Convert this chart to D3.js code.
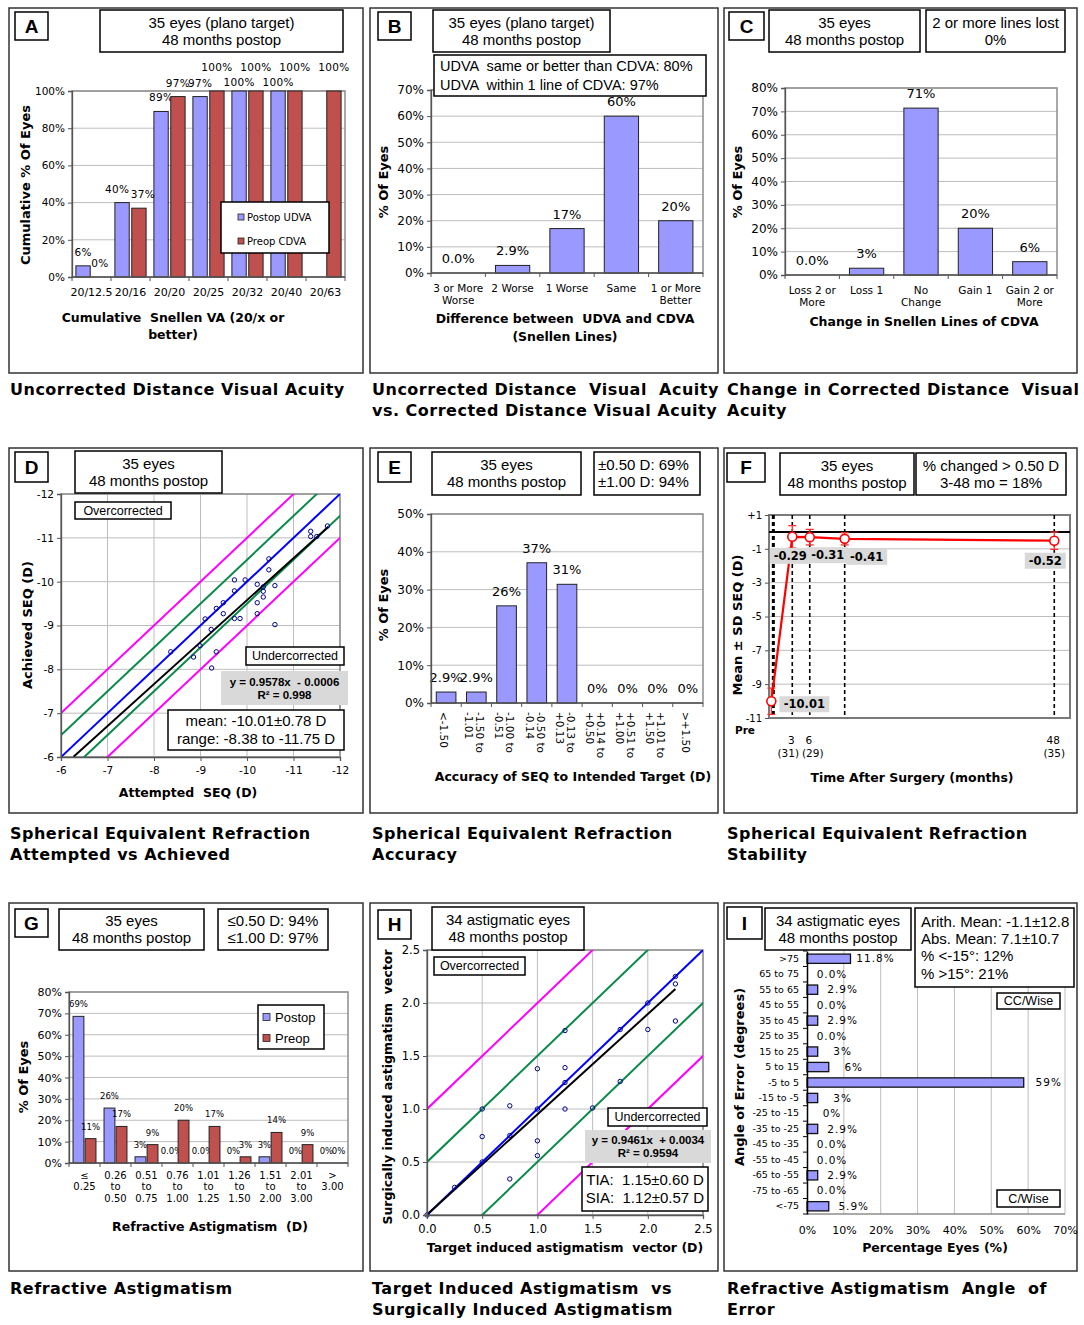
<!DOCTYPE html>
<html>
<head>
<meta charset="utf-8">
<title>Refractive outcomes</title>
<script src="https://cdn.jsdelivr.net/npm/d3@7"></script>
<style>
  body { margin: 0; background: #fff; }
</style>
</head>
<body>
<svg id="fig" width="1084" height="1325"></svg>
<script>
'use strict';

// ---------- data ----------

// A - cumulative snellen VA
var snellenCats = ['20/12.5', '20/16', '20/20', '20/25', '20/32', '20/40', '20/63'];
var udvaCum = [6, 40, 89, 97, 100, 100, null];
var cdvaCum = [0, 37, 97, 100, 100, 100, 100];
var udvaLabels = ['6%', '40%', '89%', '97%', '100%', '100%', null];
var cdvaLabels = ['0%', '37%', '97%', '100%', '100%', '100%', '100%'];

// B - UDVA vs CDVA
var diffCats = [['3 or More', 'Worse'], ['2 Worse'], ['1 Worse'], ['Same'], ['1 or More', 'Better']];
var diffVals = [0, 2.9, 17, 60, 20];
var diffLabels = ['0.0%', '2.9%', '17%', '60%', '20%'];

// C - change in CDVA lines
var lineCats = [['Loss 2 or', 'More'], ['Loss 1'], ['No', 'Change'], ['Gain 1'], ['Gain 2 or', 'More']];
var lineVals = [0, 2.9, 71.4, 20, 5.7];
var lineLabels = ['0.0%', '3%', '71%', '20%', '6%'];

// D - attempted vs achieved SEQ
var attemptedSeq = [-8.36, -8.85, -8.99, -9.10, -9.23, -9.24, -9.34, -9.34, -9.49, -9.49, -9.73, -9.73, -9.73, -9.85, -9.96,
  -10.22, -10.22, -10.22, -10.35, -10.35, -10.35, -10.47, -10.47, -10.60, -10.60, -11.37, -11.37, -11.50, -11.73];
var achievedSeq = [-8.40, -8.28, -8.54, -9.15, -8.91, -8.03, -9.39, -8.40, -9.52, -9.27, -10.04, -9.79, -9.16, -9.16, -10.04,
  -9.94, -9.52, -9.27, -9.88, -9.78, -9.65, -10.52, -10.27, -9.91, -9.02, -11.15, -11.03, -11.03, -11.27];
var seqFit = [0.9578, -0.0006];       // slope, intercept
var seqFitRange = [-6.27, -11.75];

// E - accuracy of SEQ
var accCats = [['<-1.50'], ['-1.50 to', '-1.01'], ['-1.00 to', '-0.51'], ['-0.50 to', '-0.14'], ['-0.13 to', '+0.13'],
  ['+0.14 to', '+0.50'], ['+0.51 to', '+1.00'], ['+1.01 to', '+1.50'], ['>+1.50']];
var accVals = [2.9, 2.9, 25.7, 37.1, 31.4, 0, 0, 0, 0];
var accLabels = ['2.9%', '2.9%', '26%', '37%', '31%', '0%', '0%', '0%', '0%'];

// F - stability
var stabMonths = [-0.6, 3, 6, 12, 48];
var stabMean = [-10.01, -0.29, -0.31, -0.41, -0.52];
var stabSD = [0.78, 0.66, 0.46, 0.36, 0.51];
var stabLabels = ['-10.01', '-0.29', '-0.31', '-0.41', '-0.52'];

// G - refractive astigmatism
var astigCats = [['\u2264', '0.25'], ['0.26', 'to', '0.50'], ['0.51', 'to', '0.75'], ['0.76', 'to', '1.00'], ['1.01', 'to', '1.25'],
  ['1.26', 'to', '1.50'], ['1.51', 'to', '2.00'], ['2.01', 'to', '3.00'], ['>', '3.00']];
var astigPost = [68.6, 25.7, 2.9, 0, 0, 0, 2.9, 0, 0];
var astigPostLabels = ['69%', '26%', '3%', '0.0%', '0.0%', '0%', '3%', '0%', '0%'];
var astigPre = [11.4, 17.1, 8.6, 20, 17.1, 2.9, 14.3, 8.6, 0];
var astigPreLabels = ['11%', '17%', '9%', '20%', '17%', '3%', '14%', '9%', '0%'];

// H - TIA vs SIA
var tiaVals = [0, 0.25, 0.5, 0.5, 0.5, 0.75, 0.75, 0.75, 1.0, 1.0, 1.0, 1.0, 1.25, 1.25, 1.25, 1.25, 1.5, 1.75, 1.75, 2.0, 2.0, 2.25, 2.25, 2.25];
var siaVals = [0, 0.26, 1.0, 0.74, 0.5, 1.03, 0.75, 0.34, 1.38, 1.0, 0.70, 0.56, 1.74, 1.39, 1.25, 1.0, 1.01, 1.75, 1.26, 2.0, 1.75, 2.25, 2.18, 1.83];
var siaFit = [0.9461, 0.0034];
var siaFitRange = [0, 2.25];

// I - angle of error
var angleCats = ['>75', '65 to 75', '55 to 65', '45 to 55', '35 to 45', '25 to 35', '15 to 25', '5 to 15', '-5 to 5',
  '-15 to -5', '-25 to -15', '-35 to -25', '-45 to -35', '-55 to -45', '-65 to -55', '-75 to -65', '<-75'];
var angleVals = [11.8, 0, 2.9, 0, 2.9, 0, 2.9, 5.9, 58.8, 2.9, 0, 2.9, 0, 0, 2.9, 0, 5.9];
var angleLabels = ['11.8%', '0.0%', '2.9%', '0.0%', '2.9%', '0.0%', '3%', '6%', '59%', '3%', '0%', '2.9%', '0.0%', '0.0%', '2.9%', '0.0%', '5.9%'];

// ---------- helpers ----------
var svg = d3.select('#fig');
var ARIAL = '"Liberation Sans", Arial, sans-serif';
var VERD = '"DejaVu Sans", Verdana, sans-serif';
var BLUE = '#9999ff', RED = '#c0504d';
var clipN = 0;

function txt(x, y, s, size, o) {
  o = o || {};
  return svg.append('text').attr('x', x).attr('y', y)
    .attr('font-size', size).attr('font-family', o.family || VERD)
    .attr('font-weight', o.weight || 'normal')
    .attr('text-anchor', o.anchor || 'middle')
    .attr('letter-spacing', o.ls || 0)
    .attr('dy', o.dy == null ? '0.35em' : o.dy)
    .attr('fill', '#000').text(s);
}

function box(x, y, w, h, lines, o) {
  o = o || {};
  svg.append('rect').attr('x', x).attr('y', y).attr('width', w).attr('height', h)
    .attr('fill', o.fill || '#fff').attr('stroke', o.noStroke ? 'none' : '#000').attr('stroke-width', 1.5);
  var lh = o.lh || 17, n = lines.length;
  lines.forEach(function (t, i) {
    var ty = y + h / 2 + (i - (n - 1) / 2) * lh;
    if (o.left != null) txt(x + o.left, ty, t, o.size || 15, {family: o.family || ARIAL, weight: o.weight, anchor: 'start'});
    else txt(x + w / 2, ty, t, o.size || 15, {family: o.family || ARIAL, weight: o.weight});
  });
}

function panel(x, y, w, h, letter, lb) {
  svg.append('rect').attr('x', x).attr('y', y).attr('width', w).attr('height', h)
    .attr('fill', 'none').attr('stroke', '#333').attr('stroke-width', 1.5);
  box(lb[0], lb[1], lb[2], lb[3], [letter], {size: 19, weight: 'bold'});
}

function caption(x, y, lines) {
  lines.forEach(function (t, i) {
    txt(x, y + i * 21, t, 16, {weight: 'bold', anchor: 'start', ls: 0.5});
  });
}

function frame(x0, y0, x1, y1, col, w) {
  svg.append('rect').attr('x', x0).attr('y', y0).attr('width', x1 - x0).attr('height', y1 - y0)
    .attr('fill', 'none').attr('stroke', col || '#8c8c8c').attr('stroke-width', w || 1.5);
}

function hgrid(y, vals, x0, x1) {
  svg.append('g').selectAll('line').data(vals).enter().append('line')
    .attr('x1', x0).attr('x2', x1)
    .attr('y1', function (d) { return y(d); }).attr('y2', function (d) { return y(d); })
    .attr('stroke', '#bdbdbd').attr('stroke-width', 1);
}

function vgrid(x, vals, y0, y1) {
  svg.append('g').selectAll('line').data(vals).enter().append('line')
    .attr('y1', y0).attr('y2', y1)
    .attr('x1', function (d) { return x(d); }).attr('x2', function (d) { return x(d); })
    .attr('stroke', '#bdbdbd').attr('stroke-width', 1);
}

function styleAxis(g, fs) {
  g.select('.domain').attr('stroke', '#555').attr('stroke-width', 1.3);
  g.selectAll('.tick line').attr('stroke', '#555');
  g.selectAll('.tick text').attr('font-size', fs).attr('font-family', VERD).attr('fill', '#000');
}

function hyph(d) { return String(d).replace('\u2212', '-'); }

// vertical bar chart, one or two series
function barPanel(o) {
  var y = d3.scaleLinear().domain([0, o.yMax]).range([o.y1, o.y0]);
  var idx = o.cats.map(function (c, i) { return i; });
  var x = d3.scaleBand().domain(idx).range([o.x0, o.x1]);
  var bw = x.bandwidth();
  var inner = d3.scaleBand().domain(d3.range(o.series.length))
    .range([bw * o.pad, bw * (1 - o.pad)]).paddingInner(o.gap || 0);

  hgrid(y, d3.range(o.yStep, o.yMax + 0.01, o.yStep), o.x0, o.x1);
  frame(o.x0, o.y0, o.x1, o.y1);

  o.series.forEach(function (s, si) {
    var rows = s.vals.map(function (v, i) { return {i: i, v: v, lab: s.labels[i]}; });
    svg.append('g').selectAll('rect')
      .data(rows.filter(function (d) { return d.v != null && d.v > 0; }))
      .enter().append('rect')
      .attr('x', function (d) { return x(d.i) + inner(si); })
      .attr('width', inner.bandwidth())
      .attr('y', function (d) { return y(d.v); })
      .attr('height', function (d) { return o.y1 - y(d.v); })
      .attr('fill', s.fill).attr('stroke', '#222').attr('stroke-width', 1);
    svg.append('g').selectAll('text')
      .data(rows.filter(function (d) { return d.lab != null; }))
      .enter().append('text')
      .attr('x', function (d) { return x(d.i) + inner(si) + inner.bandwidth() / 2 + (o.labDx ? o.labDx(d, si) : 0); })
      .attr('y', function (d) { return y(d.v || 0) - (o.labOff ? o.labOff(d, si) : 9); })
      .attr('text-anchor', 'middle').attr('font-family', VERD)
      .attr('font-size', o.labSize).attr('letter-spacing', o.labLs || 0)
      .text(function (d) { return d.lab; });
  });

  var ga = svg.append('g').attr('transform', 'translate(' + o.x0 + ',0)')
    .call(d3.axisLeft(y).tickValues(d3.range(0, o.yMax + 0.01, o.yStep))
      .tickFormat(function (d) { return d + '%'; }).tickSize(4).tickPadding(3));
  styleAxis(ga, o.tickSize);

  // x axis with ticks on category borders
  svg.append('line').attr('x1', o.x0).attr('x2', o.x1).attr('y1', o.y1).attr('y2', o.y1)
    .attr('stroke', '#555').attr('stroke-width', 1.3);
  svg.append('g').selectAll('line').data(d3.range(o.cats.length + 1)).enter().append('line')
    .attr('x1', function (d) { return o.x0 + d * x.step(); })
    .attr('x2', function (d) { return o.x0 + d * x.step(); })
    .attr('y1', o.y1).attr('y2', o.y1 + 4).attr('stroke', '#555');

  o.cats.forEach(function (c, i) {
    var cx = x(i) + bw / 2;
    var lines = Array.isArray(c) ? c : [c];
    if (o.rotate) {
      var g = svg.append('g').attr('transform', 'translate(' + (cx + o.rotDx) + ',' + o.catY + ') rotate(90)');
      lines.forEach(function (t, li) {
        g.append('text').attr('x', 0).attr('y', (li - (lines.length - 1) / 2) * o.catLH)
          .attr('dy', '0.35em').attr('font-family', VERD).attr('font-size', o.catSize)
          .attr('text-anchor', 'start').text(t);
      });
    } else {
      lines.forEach(function (t, li) {
        txt(cx, o.catY + li * o.catLH, t, o.catSize);
      });
    }
  });
  return {x: x, y: y};
}

// scatter with reference lines (D and H)
function scatterPanel(o) {
  var x = d3.scaleLinear().domain(o.dom).range([o.x0, o.x1]);
  var y = d3.scaleLinear().domain(o.dom).range([o.y1, o.y0]);
  var id = 'clip' + (clipN++);
  svg.append('clipPath').attr('id', id).append('rect')
    .attr('x', o.x0).attr('y', o.y0).attr('width', o.x1 - o.x0).attr('height', o.y1 - o.y0);

  vgrid(x, o.ticks, o.y0, o.y1);
  hgrid(y, o.ticks, o.x0, o.x1);
  frame(o.x0, o.y0, o.x1, o.y1);

  var pg = svg.append('g').attr('clip-path', 'url(#' + id + ')');
  var refs = [{k: 1, c: '#ff00ff'}, {k: 0.5, c: '#0a8a4a'}, {k: -0.5, c: '#0a8a4a'}, {k: -1, c: '#ff00ff'}, {k: 0, c: '#0000ff'}];
  refs.forEach(function (r) {
    var dk = r.k * o.dir;
    pg.append('line')
      .attr('x1', x(o.dom[0] - 3 * o.dir)).attr('y1', y(o.dom[0] - 3 * o.dir + dk))
      .attr('x2', x(o.dom[1] + 3 * o.dir)).attr('y2', y(o.dom[1] + 3 * o.dir + dk))
      .attr('stroke', r.c).attr('stroke-width', 2);
  });
  pg.append('line')
    .attr('x1', x(o.fitRange[0])).attr('y1', y(o.fit[0] * o.fitRange[0] + o.fit[1]))
    .attr('x2', x(o.fitRange[1])).attr('y2', y(o.fit[0] * o.fitRange[1] + o.fit[1]))
    .attr('stroke', '#000').attr('stroke-width', 2);

  var pts = o.xs.map(function (v, i) { return [v, o.ys[i]]; });
  svg.append('g').selectAll('circle').data(pts).enter().append('circle')
    .attr('cx', function (d) { return x(d[0]); }).attr('cy', function (d) { return y(d[1]); })
    .attr('r', 2.2).attr('fill', 'none').attr('stroke', '#00008b').attr('stroke-width', 1);

  var gy = svg.append('g').attr('transform', 'translate(' + o.x0 + ',0)')
    .call(d3.axisLeft(y).tickValues(o.ticks).tickFormat(o.fmt).tickSize(4).tickPadding(3));
  styleAxis(gy, o.tickSize);
  var gx = svg.append('g').attr('transform', 'translate(0,' + o.y1 + ')')
    .call(d3.axisBottom(x).tickValues(o.ticks).tickFormat(o.fmt).tickSize(4).tickPadding(6));
  styleAxis(gx, o.tickSize);
  return {x: x, y: y};
}

// ---------- panel frames ----------
panel(9, 8, 354, 365, 'A', [15, 12, 33, 28]);
panel(370, 8, 348, 365, 'B', [378, 12, 33, 28]);
panel(724, 8, 353, 365, 'C', [729, 12, 35, 28]);
panel(9, 448, 354, 365, 'D', [15, 452, 33, 30]);
panel(370, 448, 348, 365, 'E', [378, 452, 33, 30]);
panel(724, 448, 353, 365, 'F', [727, 453, 38, 29]);
panel(9, 903, 354, 368, 'G', [15, 909, 33, 28]);
panel(370, 903, 348, 368, 'H', [378, 910, 33, 29]);
panel(724, 903, 353, 368, 'I', [727, 907, 35, 32]);

// ---------- A ----------
barPanel({
  x0: 72, x1: 345, y0: 91, y1: 277, yMax: 100, yStep: 20,
  cats: snellenCats, pad: 0.1, gap: 0.15,
  series: [{vals: udvaCum, labels: udvaLabels, fill: BLUE}, {vals: cdvaCum, labels: cdvaLabels, fill: RED}],
  labSize: 10.5, labLs: 0.3, tickSize: 10.5,
  labOff: function (d, si) { return d.v === 100 ? (si === 0 ? 5 : 20) : 10; },
  labDx: function (d, si) { return d.i === 1 ? (si === 0 ? -5 : 4) : 0; },
  catY: 292, catLH: 13, catSize: 11
});
box(100, 10, 243, 42, ['35 eyes (plano target)', '48 months postop']);
svg.append('rect').attr('x', 221).attr('y', 202).attr('width', 108).attr('height', 51)
  .attr('fill', '#fff').attr('stroke', '#000').attr('stroke-width', 1.5);
[{t: 'Postop UDVA', c: BLUE, y: 217}, {t: 'Preop CDVA', c: RED, y: 241}].forEach(function (l) {
  svg.append('rect').attr('x', 238).attr('y', l.y - 3).attr('width', 6).attr('height', 6)
    .attr('fill', l.c).attr('stroke', '#222').attr('stroke-width', 0.8);
  txt(247, l.y, l.t, 10, {anchor: 'start'});
});
txt(25, 185, 'Cumulative % Of Eyes', 13, {weight: 'bold'}).attr('transform', 'rotate(-90,25,185)');
txt(173, 318, 'Cumulative  Snellen VA (20/x or', 12.5, {weight: 'bold'});
txt(173, 335, 'better)', 12.5, {weight: 'bold'});

// ---------- B ----------
barPanel({
  x0: 431, x1: 703, y0: 90, y1: 273, yMax: 70, yStep: 10,
  cats: diffCats, pad: 0.185,
  series: [{vals: diffVals, labels: diffLabels, fill: BLUE}],
  labSize: 13, tickSize: 12, labOff: function () { return 10; },
  catY: 288, catLH: 12.5, catSize: 10.5
});
box(433, 10, 177, 42, ['35 eyes (plano target)', '48 months postop']);
box(434, 55, 272, 41, ['UDVA  same or better than CDVA: 80%', 'UDVA  within 1 line of CDVA: 97%'], {size: 14.5, left: 6, lh: 19});
txt(383, 182, '% Of Eyes', 13, {weight: 'bold'}).attr('transform', 'rotate(-90,383,182)');
txt(565, 319, 'Difference between  UDVA and CDVA', 12.5, {weight: 'bold'});
txt(565, 337, '(Snellen Lines)', 12.5, {weight: 'bold'});

// ---------- C ----------
barPanel({
  x0: 785, x1: 1057, y0: 88, y1: 275, yMax: 80, yStep: 10,
  cats: lineCats, pad: 0.185,
  series: [{vals: lineVals, labels: lineLabels, fill: BLUE}],
  labSize: 13, tickSize: 12, labOff: function () { return 10; },
  catY: 290, catLH: 12, catSize: 10.5
});
box(769, 10, 151, 42, ['35 eyes', '48 months postop']);
box(926, 10, 139, 42, ['2 or more lines lost', '0%']);
txt(737, 182, '% Of Eyes', 13, {weight: 'bold'}).attr('transform', 'rotate(-90,737,182)');
txt(924, 322, 'Change in Snellen Lines of CDVA', 12.5, {weight: 'bold'});

// ---------- D ----------
scatterPanel({
  x0: 61, x1: 340, y0: 494, y1: 757, dom: [-6, -12], dir: -1,
  ticks: [-6, -7, -8, -9, -10, -11, -12], fmt: hyph, tickSize: 10.5,
  xs: attemptedSeq, ys: achievedSeq, fit: seqFit, fitRange: seqFitRange
});
box(75, 451, 147, 42, ['35 eyes', '48 months postop']);
box(75, 502, 96, 17, ['Overcorrected'], {size: 12.5});
box(246, 647, 98, 18, ['Undercorrected'], {size: 12.5});
box(221, 671, 127, 34, ['y = 0.9578x  - 0.0006', 'R\u00b2 = 0.998'], {fill: '#d9d9d9', noStroke: true, size: 11.5, weight: 'bold', lh: 13});
box(168, 710, 176, 40, ['mean: -10.01\u00b10.78 D', 'range: -8.38 to -11.75 D'], {size: 15, lh: 18});
txt(27, 625, 'Achieved SEQ (D)', 13, {weight: 'bold'}).attr('transform', 'rotate(-90,27,625)');
txt(188, 793, 'Attempted  SEQ (D)', 12.5, {weight: 'bold'});

// ---------- E ----------
barPanel({
  x0: 431, x1: 703, y0: 514, y1: 703, yMax: 50, yStep: 10,
  cats: accCats, pad: 0.175,
  series: [{vals: accVals, labels: accLabels, fill: BLUE}],
  labSize: 13, tickSize: 12, labOff: function () { return 10; },
  rotate: true, rotDx: -2, catY: 712, catLH: 11, catSize: 10.5
});
box(432, 452, 149, 43, ['35 eyes', '48 months postop']);
box(594, 452, 106, 43, ['\u00b10.50 D: 69%', '\u00b11.00 D: 94%'], {left: 4});
txt(383, 605, '% Of Eyes', 13, {weight: 'bold'}).attr('transform', 'rotate(-90,383,605)');
txt(573, 777, 'Accuracy of SEQ to Intended Target (D)', 12.5, {weight: 'bold'});

// ---------- F ----------
(function () {
  var x0 = 769, x1 = 1070, y0 = 515, y1 = 718;
  var x = d3.scaleLinear().domain([-1, 50.7]).range([x0, x1]);
  var y = d3.scaleLinear().domain([-11, 1]).range([y1, y0]);
  hgrid(y, [-1, -3, -5, -7, -9], x0, x1);
  frame(x0, y0, x1, y1, '#7a7a7a', 2);
  svg.append('line').attr('x1', x0).attr('x2', x1).attr('y1', y(0)).attr('y2', y(0))
    .attr('stroke', '#000').attr('stroke-width', 2);
  svg.append('g').selectAll('line').data(stabMonths).enter().append('line')
    .attr('x1', function (d) { return x(d) + (d < 0 ? 2 : 0); })
    .attr('x2', function (d) { return x(d) + (d < 0 ? 2 : 0); })
    .attr('y1', y0).attr('y2', y1)
    .attr('stroke', '#000').attr('stroke-width', function (d) { return d < 0 ? 3 : 1.6; })
    .attr('stroke-dasharray', '4,3');

  var rows = stabMonths.map(function (m, i) { return {m: m, v: stabMean[i], sd: stabSD[i], lab: stabLabels[i]}; });
  var eb = svg.append('g').attr('stroke', '#ff3030').attr('stroke-width', 1.3);
  rows.forEach(function (d) {
    eb.append('line').attr('x1', x(d.m)).attr('x2', x(d.m)).attr('y1', y(d.v + d.sd)).attr('y2', y(d.v - d.sd));
    [d.v + d.sd, d.v - d.sd].forEach(function (e) {
      eb.append('line').attr('x1', x(d.m) - 4).attr('x2', x(d.m) + 4).attr('y1', y(e)).attr('y2', y(e));
    });
  });
  svg.append('path').datum(rows)
    .attr('d', d3.line().x(function (d) { return x(d.m); }).y(function (d) { return y(d.v); }))
    .attr('fill', 'none').attr('stroke', '#ff0000').attr('stroke-width', 2.2);
  svg.append('g').selectAll('circle').data(rows).enter().append('circle')
    .attr('cx', function (d) { return x(d.m); }).attr('cy', function (d) { return y(d.v); })
    .attr('r', 4.5).attr('fill', '#fff').attr('stroke', '#ff0000').attr('stroke-width', 1.6);

  // value labels (gray boxes), offsets from the point
  var labDx = [33, -2, 18, 22, -9], labDy = [3, 19, 18, 18, 20];
  rows.forEach(function (d, i) {
    var cx = x(d.m) + labDx[i], cy = y(d.v) + labDy[i];
    var w = d.lab.length > 5 ? 50 : 41;
    svg.append('rect').attr('x', cx - w / 2).attr('y', cy - 8).attr('width', w).attr('height', 16).attr('fill', '#d9d9d9');
    txt(cx, cy, d.lab, 11.5, {weight: 'bold'});
  });

  var gy = svg.append('g').attr('transform', 'translate(' + x0 + ',0)')
    .call(d3.axisLeft(y).tickValues([1, -1, -3, -5, -7, -9, -11])
      .tickFormat(function (d) { return d > 0 ? '+' + d : hyph(d); }).tickSize(4).tickPadding(3));
  styleAxis(gy, 10);
  gy.select('.domain').attr('stroke', 'none');

  txt(745, 730, 'Pre', 10.5, {weight: 'bold'});
  [[3, '3', '(31)'], [6, '6', '(29)'], [48, '48', '(35)']].forEach(function (t) {
    txt(x(t[0]) - 1, 740, t[1], 10.5);
    txt(x(t[0]) - (t[0] === 3 ? 4 : t[0] === 6 ? -3 : 0), 753, t[2], 10.5);
  });
})();
box(780, 453, 134, 42, ['35 eyes', '48 months postop']);
box(916, 453, 150, 42, ['% changed > 0.50 D', '3-48 mo = 18%']);
txt(737, 625, 'Mean \u00b1 SD SEQ (D)', 13, {weight: 'bold'}).attr('transform', 'rotate(-90,737,625)');
txt(912, 778, 'Time After Surgery (months)', 12.5, {weight: 'bold'});

// ---------- G ----------
barPanel({
  x0: 69, x1: 348, y0: 992, y1: 1163, yMax: 80, yStep: 10,
  cats: astigCats, pad: 0.13, gap: 0.1,
  series: [{vals: astigPost, labels: astigPostLabels, fill: BLUE}, {vals: astigPre, labels: astigPreLabels, fill: RED}],
  labSize: 8.5, tickSize: 11, labOff: function () { return 9; },
  catY: 1175, catLH: 11.5, catSize: 10
});
box(59, 909, 145, 41, ['35 eyes', '48 months postop']);
box(218, 909, 110, 41, ['\u22640.50 D: 94%', '\u22641.00 D: 97%']);
svg.append('rect').attr('x', 258).attr('y', 1005).attr('width', 66).attr('height', 44)
  .attr('fill', '#fff').attr('stroke', '#000').attr('stroke-width', 1.5);
[{t: 'Postop', c: BLUE, y: 1017}, {t: 'Preop', c: RED, y: 1038}].forEach(function (l) {
  svg.append('rect').attr('x', 263).attr('y', l.y - 3.5).attr('width', 7).attr('height', 7)
    .attr('fill', l.c).attr('stroke', '#222').attr('stroke-width', 0.8);
  txt(275, l.y, l.t, 13, {anchor: 'start', family: ARIAL});
});
txt(23, 1077, '% Of Eyes', 13, {weight: 'bold'}).attr('transform', 'rotate(-90,23,1077)');
txt(210, 1227, 'Refractive Astigmatism  (D)', 12.5, {weight: 'bold'});

// ---------- H ----------
scatterPanel({
  x0: 427, x1: 703, y0: 950, y1: 1215, dom: [0, 2.5], dir: 1,
  ticks: [0, 0.5, 1, 1.5, 2, 2.5], fmt: d3.format('.1f'), tickSize: 11.5,
  xs: tiaVals, ys: siaVals, fit: siaFit, fitRange: siaFitRange
});
box(432, 907, 152, 43, ['34 astigmatic eyes', '48 months postop']);
box(434, 957, 91, 18, ['Overcorrected'], {size: 12.5});
box(608, 1108, 99, 18, ['Undercorrected'], {size: 12.5});
box(585, 1130, 126, 33, ['y = 0.9461x  + 0.0034', 'R\u00b2 = 0.9594'], {fill: '#d9d9d9', noStroke: true, size: 11.5, weight: 'bold', lh: 13});
box(582, 1167, 126, 44, ['TIA:  1.15\u00b10.60 D', 'SIA:  1.12\u00b10.57 D'], {size: 15, lh: 18});
txt(388, 1087, 'Surgically induced astigmatism  vector', 12.5, {weight: 'bold'})
  .attr('transform', 'rotate(-90,388,1087)');
txt(565, 1248, 'Target induced astigmatism  vector (D)', 12.5, {weight: 'bold'});

// ---------- I ----------
(function () {
  var x0 = 807, x1 = 1065, y0 = 951, y1 = 1214;
  var x = d3.scaleLinear().domain([0, 70]).range([x0, x1]);
  var y = d3.scaleBand().domain(angleCats).range([y0, y1]).paddingInner(0.4).paddingOuter(0.2);
  vgrid(x, [10, 20, 30, 40, 50, 60, 70], y0, y1);
  svg.append('line').attr('x1', x0).attr('x2', x1).attr('y1', y1).attr('y2', y1).attr('stroke', '#8c8c8c').attr('stroke-width', 1.5);
  var rows = angleCats.map(function (c, i) { return {c: c, v: angleVals[i], lab: angleLabels[i]}; });
  svg.append('g').selectAll('rect').data(rows.filter(function (d) { return d.v > 0; })).enter().append('rect')
    .attr('x', x0).attr('y', function (d) { return y(d.c); })
    .attr('width', function (d) { return x(d.v) - x0; }).attr('height', y.bandwidth())
    .attr('fill', BLUE).attr('stroke', '#111').attr('stroke-width', 1.3);
  svg.append('g').selectAll('text').data(rows).enter().append('text')
    .attr('x', function (d) { return x(d.v) + 25; })
    .attr('y', function (d) { return y(d.c) + y.bandwidth() / 2; })
    .attr('dy', '0.35em').attr('text-anchor', 'middle')
    .attr('font-family', VERD).attr('font-size', 10.5).attr('letter-spacing', 1)
    .text(function (d) { return d.lab; });
  var gy = svg.append('g').attr('transform', 'translate(' + x0 + ',0)')
    .call(d3.axisLeft(y).tickSize(0).tickPadding(8));
  styleAxis(gy, 9.5);
  gy.select('.domain').attr('stroke', '#000').attr('stroke-width', 1.5);
  svg.append('g').selectAll('line').data(d3.range(angleCats.length + 1)).enter().append('line')
    .attr('x1', x0 - 4).attr('x2', x0)
    .attr('y1', function (d) { return y0 + d * (y1 - y0) / angleCats.length; })
    .attr('y2', function (d) { return y0 + d * (y1 - y0) / angleCats.length; })
    .attr('stroke', '#000');
  var gx = svg.append('g').attr('transform', 'translate(0,' + y1 + ')')
    .call(d3.axisBottom(x).tickValues([0, 10, 20, 30, 40, 50, 60, 70])
      .tickFormat(function (d) { return d + '%'; }).tickSize(0).tickPadding(12));
  styleAxis(gx, 11);
  gx.select('.domain').attr('stroke', 'none');
})();
box(765, 908, 146, 42, ['34 astigmatic eyes', '48 months postop']);
box(915, 908, 159, 79, ['Arith. Mean: -1.1\u00b112.8', 'Abs. Mean: 7.1\u00b110.7', '% <-15\u00b0: 12%', '% >15\u00b0: 21%'], {left: 6, lh: 17.3});
box(997, 993, 63, 16, ['CC/Wise'], {size: 12.5});
box(997, 1190, 63, 17, ['C/Wise'], {size: 12.5});
txt(739, 1077, 'Angle of Error (degrees)', 13, {weight: 'bold'}).attr('transform', 'rotate(-90,739,1077)');
txt(935, 1248, 'Percentage Eyes (%)', 12.5, {weight: 'bold'});

// ---------- captions ----------
caption(10, 389, ['Uncorrected Distance Visual Acuity']);
caption(372, 389, ['Uncorrected Distance  Visual  Acuity', 'vs. Corrected Distance Visual Acuity']);
caption(727, 389, ['Change in Corrected Distance  Visual', 'Acuity']);
caption(10, 833, ['Spherical Equivalent Refraction', 'Attempted vs Achieved']);
caption(372, 833, ['Spherical Equivalent Refraction', 'Accuracy']);
caption(727, 833, ['Spherical Equivalent Refraction', 'Stability']);
caption(10, 1288, ['Refractive Astigmatism']);
caption(372, 1288, ['Target Induced Astigmatism  vs', 'Surgically Induced Astigmatism']);
caption(727, 1288, ['Refractive Astigmatism  Angle  of', 'Error']);
svg.selectAll('text').attr('xml:space', 'preserve');
</script>
</body>
</html>
